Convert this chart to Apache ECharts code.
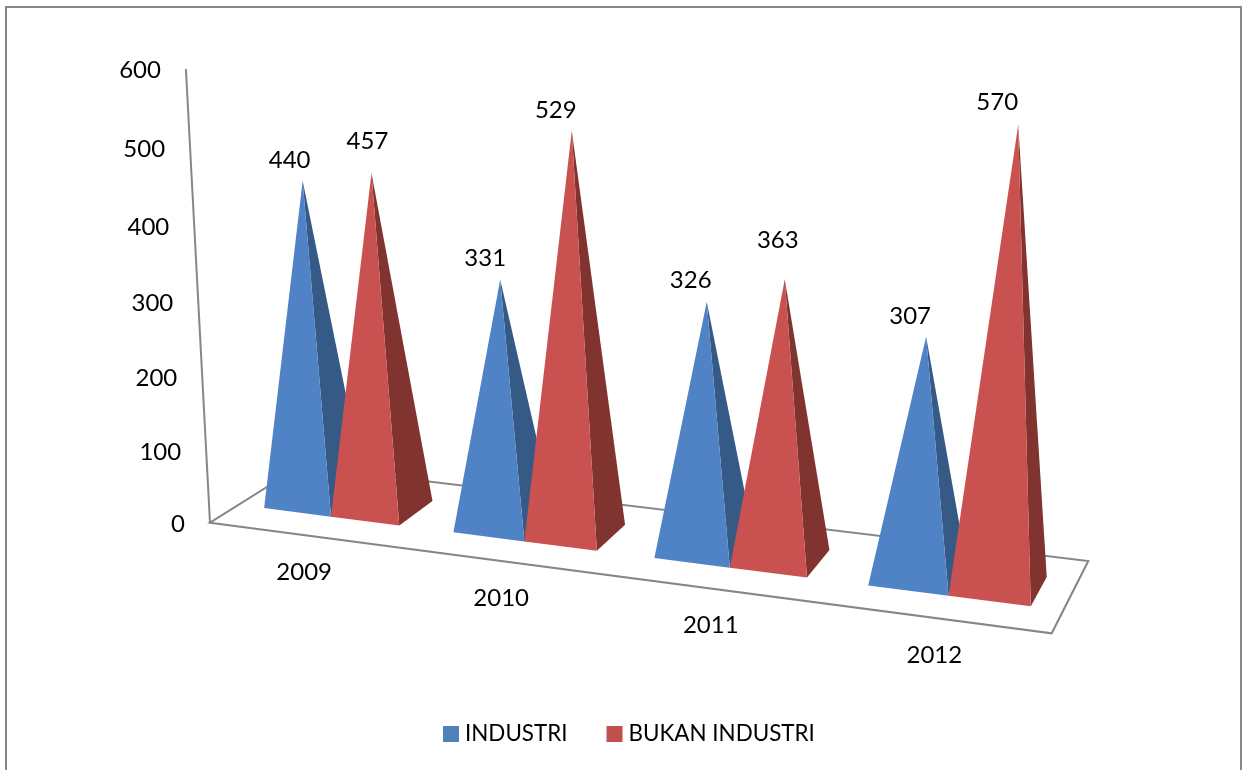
<!DOCTYPE html>
<html>
<head>
<meta charset="utf-8">
<title>Industri dan bukan industri</title>
<style>
  html, body { margin: 0; padding: 0; background: #fff; }
  #chart { width: 1242px; height: 770px; }
</style>
<script src="https://cdn.jsdelivr.net/npm/echarts@6/dist/echarts.min.js"></script>
</head>
<body>
<div id="chart"></div>
<script>
const years = ["2009", "2010", "2011", "2012"];
const tickValues = [0, 100, 200, 300, 400, 500, 600];
const industri = [440, 331, 326, 307];
const bukanIndustri = [457, 529, 363, 570];

const GRID = { left: 210, top: 70, width: 842, height: 452 };
const LABEL_FONT = "24px Lato, Carlito, sans-serif";
const AXIS_COLOR = "#868686";

// Perspective of the floor: unit square (u along the years, v into the depth) to screen.
const FLOOR = {
  a: 716.94, b: 112.7, c: 210,
  d: 35.47, e: -22.25, f: 522.7,
  g: -0.11863, h: 0.07393
};
// Vertical edges converge on this point far below the picture.
const VANISH = [645, 8711];
const FULL_HEIGHT_T = -0.0525;

const BAR_WIDTH = 0.36; // share of a year band taken by one pyramid
const DEPTH_FRONT = 0.3;
const DEPTH_BACK = 0.71;

// Hand placed data labels in the reference, px from the apex.
const LABEL_NUDGE_INDUSTRI = [[-13, -21], [-15, -21], [-16, -21], [-16, -20]];
const LABEL_NUDGE_BUKAN = [[-4, -32], [-16, -21], [-7, -39], [-21, -23]];

function project(u, v, share) {
  const t = share * FULL_HEIGHT_T;
  const w = FLOOR.g * u + FLOOR.h * v + 1 + t;
  return [
    (FLOOR.a * u + FLOOR.b * v + FLOOR.c + VANISH[0] * t) / w,
    (FLOOR.d * u + FLOOR.e * v + FLOOR.f + VANISH[1] * t) / w
  ];
}

function toU(px) {
  return (px - GRID.left) / GRID.width;
}

function toShare(py) {
  return (GRID.top + GRID.height - py) / GRID.height;
}

function axisLabelText(text, x, y, align) {
  return {
    type: "text",
    silent: true,
    style: { text, x, y, fill: "#000", font: LABEL_FONT, align, verticalAlign: "middle" }
  };
}

function renderFloor() {
  const corners = [project(0, 0, 0), project(1, 0, 0), project(1, 1, 0), project(0, 1, 0)];
  const wall = [project(0, 0, 0), project(0, 0, 1)];
  const lineStyle = { fill: "none", stroke: AXIS_COLOR, lineWidth: 2 };
  return {
    type: "group",
    children: [
      { type: "polygon", shape: { points: corners }, style: lineStyle, silent: true },
      { type: "polyline", shape: { points: wall }, style: lineStyle, silent: true }
    ]
  };
}

function renderValueTick(params, api) {
  const share = toShare(api.coord([0, api.value(1)])[1]);
  const p = project(0, 0, share);
  return axisLabelText(String(api.value(1)), p[0] - 25, p[1] + 1.5, "right");
}

function renderYearLabel(params, api) {
  const u = toU(api.coord([api.value(0), 0])[0]);
  const p = project(u, 0, 0);
  return axisLabelText(years[api.value(0)], p[0], p[1] + 37, "center");
}

function pyramidRenderer(sideShift, frontColor, sideColor, nudges) {
  return function (params, api) {
    const point = api.coord([api.value(0), api.value(1)]);
    const band = toU(GRID.left + api.size([1, 0])[0]);
    const barWidth = band * BAR_WIDTH;
    const center = toU(point[0]) + sideShift * barWidth;
    const share = toShare(point[1]);
    const left = center - barWidth / 2;
    const right = center + barWidth / 2;

    const frontLeft = project(left, DEPTH_FRONT, 0);
    const frontRight = project(right, DEPTH_FRONT, 0);
    const backRight = project(right, DEPTH_BACK, 0);
    const apex = project(center, (DEPTH_FRONT + DEPTH_BACK) / 2, share);
    const nudge = nudges[params.dataIndex];

    return {
      type: "group",
      children: [
        {
          type: "polygon",
          shape: { points: [frontRight, backRight, apex] },
          style: { fill: sideColor }
        },
        {
          type: "polygon",
          shape: { points: [frontLeft, frontRight, apex] },
          style: { fill: frontColor }
        },
        axisLabelText(String(api.value(1)), apex[0] + nudge[0], apex[1] + nudge[1], "center")
      ]
    };
  };
}

const chart = echarts.init(document.getElementById("chart"), null, { renderer: "canvas" });

chart.setOption({
  animation: false,
  backgroundColor: "#fff",
  textStyle: { fontFamily: "Lato, Carlito, sans-serif" },
  graphic: [
    {
      type: "polyline",
      silent: true,
      shape: { points: [[6, 770], [6, 7], [1241, 7], [1241, 770]] },
      style: { fill: "none", stroke: AXIS_COLOR, lineWidth: 2 }
    }
  ],
  grid: GRID,
  xAxis: { type: "category", data: years, show: false },
  yAxis: { type: "value", min: 0, max: 600, interval: 100, show: false },
  legend: {
    data: ["INDUSTRI", "BUKAN INDUSTRI"],
    left: 438,
    top: 718,
    icon: "rect",
    itemWidth: 16,
    itemHeight: 16,
    itemGap: 39,
    textStyle: { color: "#000", fontSize: 22.4, fontFamily: "Lato, Carlito, sans-serif", padding: [0, 0, 0, 1] },
    selectedMode: false
  },
  tooltip: { show: false },
  series: [
    {
      type: "custom",
      name: "floor",
      data: [[0, 0]],
      renderItem: renderFloor,
      silent: true
    },
    {
      type: "custom",
      name: "value ticks",
      data: tickValues.map((v) => [0, v]),
      renderItem: renderValueTick,
      silent: true
    },
    {
      type: "custom",
      name: "year labels",
      data: years.map((y, i) => [i, 0]),
      renderItem: renderYearLabel,
      silent: true
    },
    {
      type: "custom",
      name: "INDUSTRI",
      itemStyle: { color: "#4F81BD" },
      data: industri.map((v, i) => [i, v]),
      renderItem: pyramidRenderer(-0.5, "#5083C6", "#355A85", LABEL_NUDGE_INDUSTRI)
    },
    {
      type: "custom",
      name: "BUKAN INDUSTRI",
      itemStyle: { color: "#C0504D" },
      data: bukanIndustri.map((v, i) => [i, v]),
      renderItem: pyramidRenderer(0.5, "#C95250", "#81332F", LABEL_NUDGE_BUKAN)
    }
  ]
});
</script>
</body>
</html>
